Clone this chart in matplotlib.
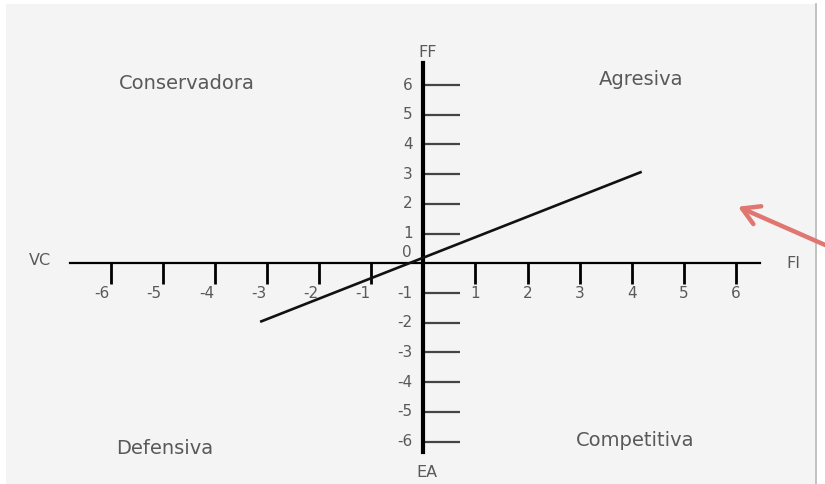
import matplotlib
matplotlib.use("Agg")
import matplotlib.pyplot as plt
from matplotlib.patches import Rectangle

# ---- data ----
x_ticks = [-6, -5, -4, -3, -2, -1, 1, 2, 3, 4, 5, 6]
y_ticks = [-6, -5, -4, -3, -2, -1, 1, 2, 3, 4, 5, 6]
line_x = [-3.13, 4.19]
line_y = [-1.97, 3.08]
quadrant_names = ["Conservadora", "Agresiva", "Defensiva", "Competitiva"]
quadrant_x = [-4.53, 4.18, -4.97, 4.06]
quadrant_y = [6.06, 6.19, -6.25, -5.98]
axis_names = ["VC", "FI", "FF", "EA"]
axis_name_x = [-7.35, 7.09, 0.09, 0.07]
axis_name_y = [0.11, 0.01, 7.09, -7.05]

plt.rcParams['font.family'] = ['DejaVu Sans']
W, H = 825, 484
fig = plt.figure(figsize=(W / 100, H / 100), dpi=100)
fig.patch.set_facecolor("white")
# panel background
fig.patches.append(Rectangle((6 / W, 0), (816 - 6) / W, (H - 4) / H,
                             transform=fig.transFigure, facecolor="#f4f4f4",
                             edgecolor="none", zorder=-10))
fig.lines.append(plt.Line2D([816 / W, 816 / W], [0, (H - 4) / H],
                            transform=fig.transFigure, color="#b8b8b8", lw=1.2,
                            zorder=-9))

ax = fig.add_axes([0, 0, 1, 1])
ax.set_zorder(1)
ax.set_facecolor("none")
ax.patch.set_visible(False)
ax.set_xlim(-8.12, 7.706)
ax.set_ylim(-7.428, 8.862)
ax.axis("off")

txt = "#595959"

# main axes
ax.plot([-6.78, 6.46], [0, 0], color="black", lw=1.6, zorder=3)
ax.plot([0, 0], [-6.34, 6.74], color="black", lw=3.0, zorder=4)

# x ticks (downwards)
ax.vlines(x_ticks, -0.71, 0, color="black", lw=2.0, zorder=3)
for v in x_ticks:
    dx = -0.16 if v < 0 else 0.0
    ax.text(v + dx, -1.0, f"{v}", ha="center", va="center", fontsize=11, color=txt)

# y ticks (to the right)
ax.hlines(y_ticks, 0, 0.71, color="#444444", lw=1.6, zorder=3)
for v in y_ticks:
    ax.text(-0.2, v, f"{v}", ha="right", va="center", fontsize=11, color=txt)
ax.text(-0.32, 0.36, "0", ha="center", va="center", fontsize=11, color=txt)

# data line
ax.plot(line_x, line_y, color="#111111", lw=1.9, zorder=5, solid_capstyle="butt")

# quadrant labels
for name, qx, qy in zip(quadrant_names, quadrant_x, quadrant_y):
    ax.text(qx, qy, name, ha="center", va="center", fontsize=14, color=txt)

# axis names
for name, nx, ny in zip(axis_names, axis_name_x, axis_name_y):
    ax.text(nx, ny, name, ha="center", va="center", fontsize=11.5, color=txt)

# red arrow
ax.annotate("", xy=(738, H - 206.7), xycoords="figure pixels",
            xytext=(832, H - 248), textcoords="figure pixels",
            arrowprops=dict(arrowstyle="->,head_length=1.2,head_width=0.7",
                            color="#e07670", lw=3.2, shrinkA=0, shrinkB=0),
            annotation_clip=False)

fig.savefig("out.png", dpi=100, facecolor=fig.get_facecolor())
